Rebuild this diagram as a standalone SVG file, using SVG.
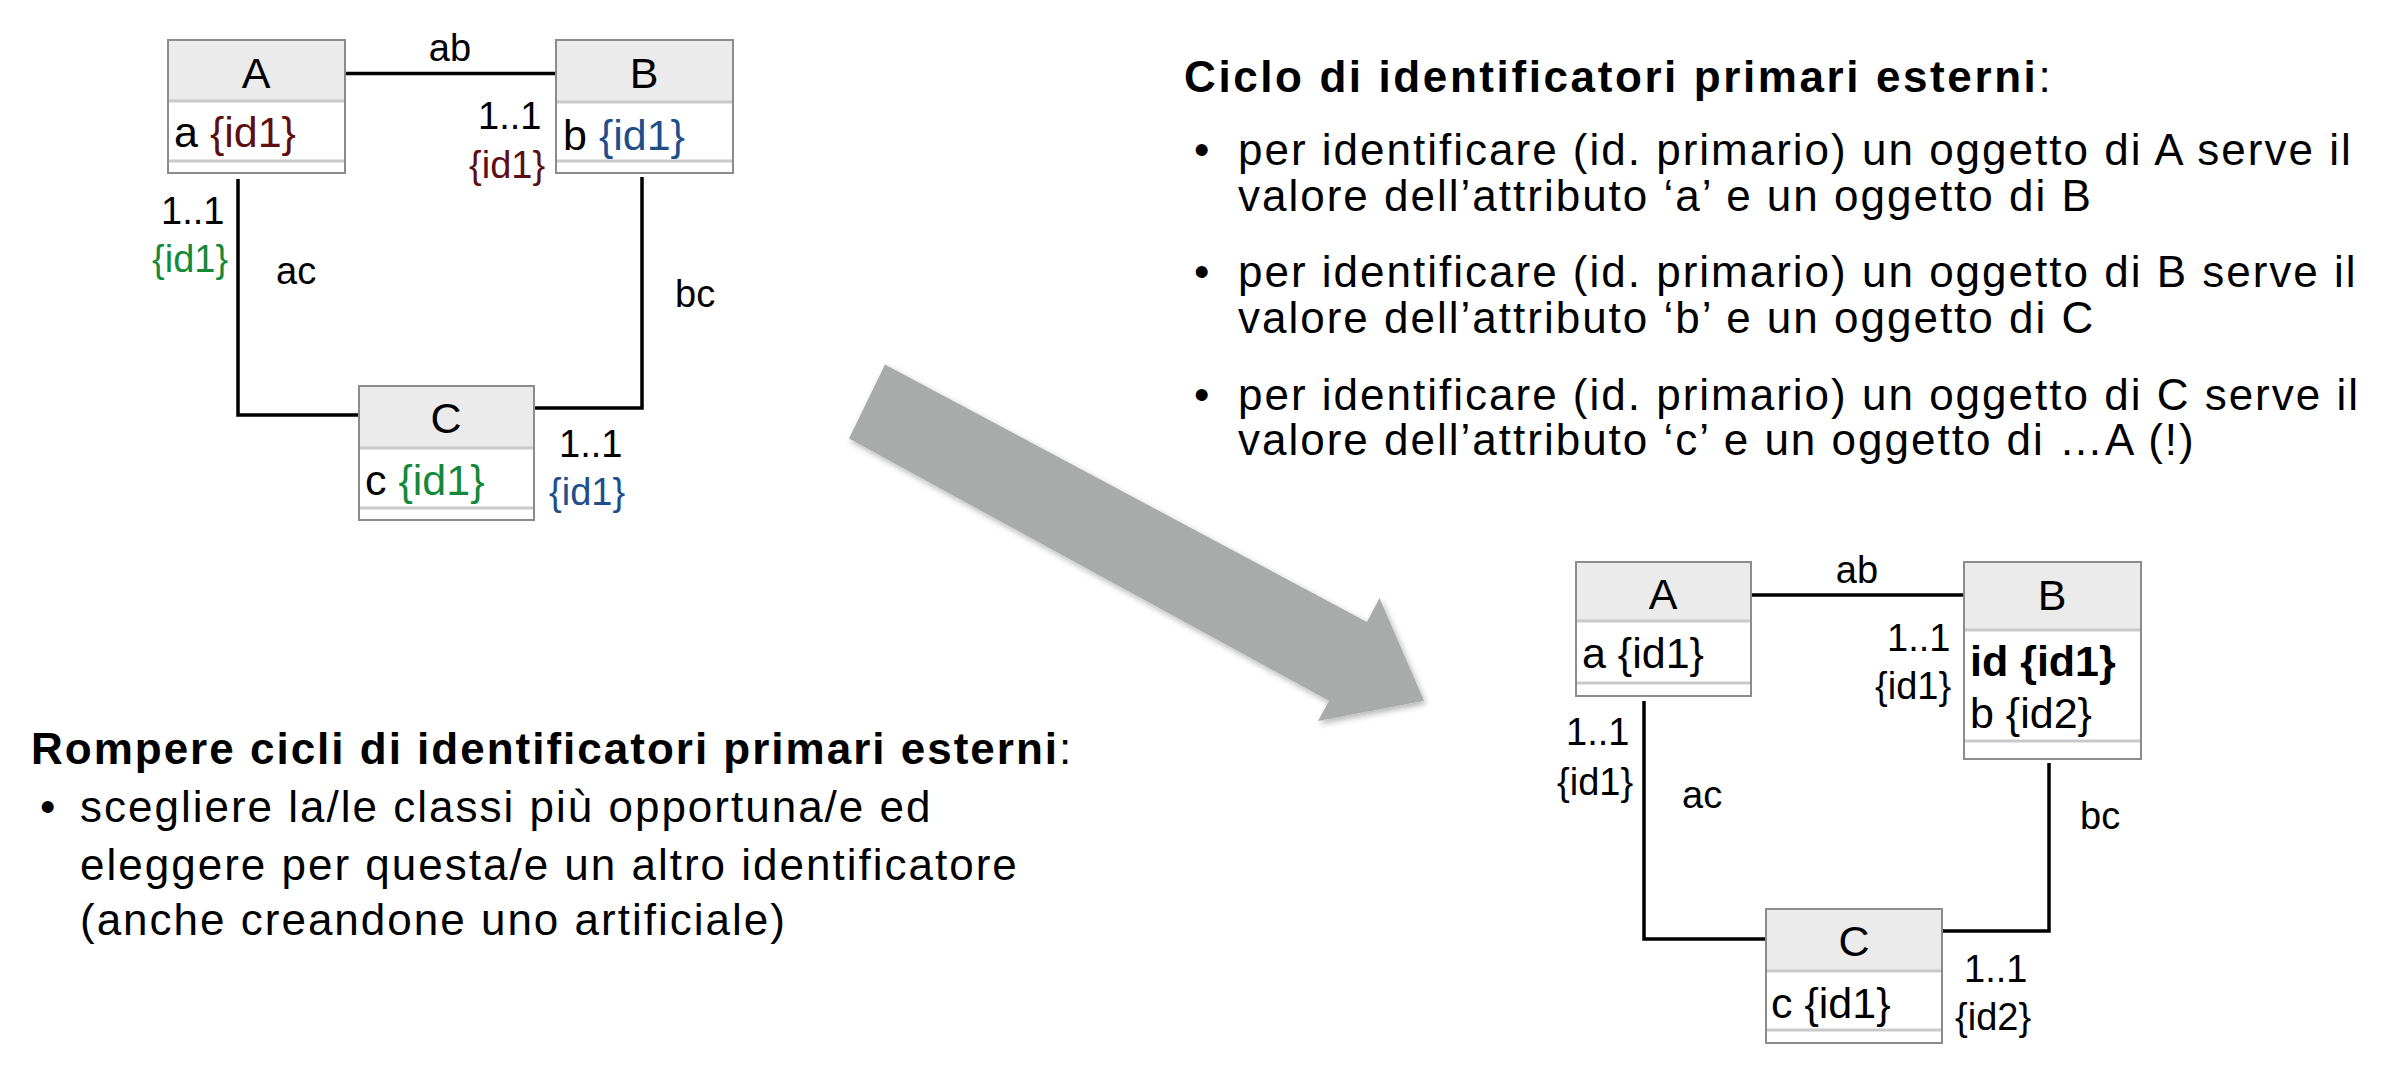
<svg xmlns="http://www.w3.org/2000/svg" width="2396" height="1068" viewBox="0 0 2396 1068">
<defs>
<style>
text{font-family:"Liberation Sans",Arial,Helvetica,sans-serif;fill:#000}
.box{fill:#fff;stroke:#8c8c8c;stroke-width:2}
.hdr{fill:#ebebeb}
.sep{stroke:#c9c9c9;stroke-width:3}
.cn{fill:none;stroke:#000;stroke-width:3.5}
.title{font-size:43px}
.attr{font-size:43px}
.lbl{font-size:38px}
.txt{font-size:44px;letter-spacing:2px}
.bold{font-weight:bold}
.red{fill:#5c1013}
.blue{fill:#1f4f8b}
.green{fill:#15893a}
</style>
<filter id="sh" x="-10%" y="-10%" width="130%" height="130%">
<feDropShadow dx="2" dy="3" stdDeviation="3" flood-color="#000" flood-opacity="0.3"/>
</filter>
</defs>
<rect width="2396" height="1068" fill="#fff"/>

<!-- connectors -->
<g id="connectors">
<polyline class="cn" points="346,73.5 556,73.5"/>
<polyline class="cn" points="238,179 238,415 359,415"/>
<polyline class="cn" points="642,177 642,408 534,408"/>
<polyline class="cn" points="1752,595 1964,595"/>
<polyline class="cn" points="1644,701 1644,939 1766,939"/>
<polyline class="cn" points="2049,763 2049,931 1942,931"/>
</g>

<!-- connector labels -->
<g id="labels-left" class="lbl">
<text x="450" y="61" text-anchor="middle">ab</text>
<text x="478" y="129">1..1</text>
<text x="469" y="178" class="red">{id1}</text>
<text x="161" y="224">1..1</text>
<text x="152" y="272" class="green">{id1}</text>
<text x="276" y="284">ac</text>
<text x="675" y="307">bc</text>
<text x="559" y="457">1..1</text>
<text x="549" y="505" class="blue">{id1}</text>
</g>
<g id="labels-right" class="lbl">
<text x="1857" y="583" text-anchor="middle">ab</text>
<text x="1887" y="651">1..1</text>
<text x="1875" y="699">{id1}</text>
<text x="1566" y="745">1..1</text>
<text x="1557" y="795">{id1}</text>
<text x="1682" y="808">ac</text>
<text x="2080" y="829">bc</text>
<text x="1964" y="982">1..1</text>
<text x="1955" y="1030">{id2}</text>
</g>

<!-- left diagram nodes -->
<g id="L-A">
<rect class="box" x="168" y="40" width="177" height="133"/>
<rect class="hdr" x="169" y="41" width="175" height="59"/>
<line class="sep" x1="169" y1="101" x2="344" y2="101"/>
<line class="sep" x1="169" y1="161" x2="344" y2="161"/>
<text class="title" x="256" y="88" text-anchor="middle">A</text>
<text class="attr" x="174" y="147">a <tspan class="red">{id1}</tspan></text>
</g>
<g id="L-B">
<rect class="box" x="556" y="40" width="177" height="133"/>
<rect class="hdr" x="557" y="41" width="175" height="61"/>
<line class="sep" x1="557" y1="102" x2="732" y2="102"/>
<line class="sep" x1="557" y1="161" x2="732" y2="161"/>
<text class="title" x="644" y="88" text-anchor="middle">B</text>
<text class="attr" x="563" y="150">b <tspan class="blue">{id1}</tspan></text>
</g>
<g id="L-C">
<rect class="box" x="359" y="386" width="175" height="134"/>
<rect class="hdr" x="360" y="387" width="173" height="61"/>
<line class="sep" x1="360" y1="448" x2="533" y2="448"/>
<line class="sep" x1="360" y1="508" x2="533" y2="508"/>
<text class="title" x="446" y="433" text-anchor="middle">C</text>
<text class="attr" x="365" y="495">c <tspan class="green">{id1}</tspan></text>
</g>

<!-- right diagram nodes -->
<g id="R-A">
<rect class="box" x="1576" y="562" width="175" height="134"/>
<rect class="hdr" x="1577" y="563" width="173" height="58"/>
<line class="sep" x1="1577" y1="621" x2="1750" y2="621"/>
<line class="sep" x1="1577" y1="683" x2="1750" y2="683"/>
<text class="title" x="1663" y="609" text-anchor="middle">A</text>
<text class="attr" x="1582" y="668">a {id1}</text>
</g>
<g id="R-B">
<rect class="box" x="1964" y="562" width="177" height="197"/>
<rect class="hdr" x="1965" y="563" width="175" height="67"/>
<line class="sep" x1="1965" y1="630" x2="2140" y2="630"/>
<line class="sep" x1="1965" y1="741" x2="2140" y2="741"/>
<text class="title" x="2052" y="610" text-anchor="middle">B</text>
<text class="attr bold" x="1970" y="676">id {id1}</text>
<text class="attr" x="1970" y="728">b {id2}</text>
</g>
<g id="R-C">
<rect class="box" x="1766" y="909" width="176" height="134"/>
<rect class="hdr" x="1767" y="910" width="174" height="61"/>
<line class="sep" x1="1767" y1="971" x2="1941" y2="971"/>
<line class="sep" x1="1767" y1="1030" x2="1941" y2="1030"/>
<text class="title" x="1854" y="956" text-anchor="middle">C</text>
<text class="attr" x="1771" y="1018">c {id1}</text>
</g>

<!-- big arrow -->
<g id="arrow">
<polygon points="885,364.5 1367,622 1379.5,598 1424,700.7 1318,721 1329,700.7 849,438.6" fill="#a8abaa" filter="url(#sh)"/>
</g>

<!-- right text block -->
<g id="text-right" class="txt">
<text x="1184" y="92" style="letter-spacing:2.6px"><tspan class="bold">Ciclo di identificatori primari esterni</tspan>:</text>
<text x="1194" y="165">•</text>
<text x="1238" y="165">per identificare (id. primario) un oggetto di A serve il</text>
<text x="1238" y="211">valore dell’attributo ‘a’ e un oggetto di B</text>
<text x="1194" y="287">•</text>
<text x="1238" y="287">per identificare (id. primario) un oggetto di B serve il</text>
<text x="1238" y="333">valore dell’attributo ‘b’ e un oggetto di C</text>
<text x="1194" y="410">•</text>
<text x="1238" y="410">per identificare (id. primario) un oggetto di C serve il</text>
<text x="1238" y="455">valore dell’attributo ‘c’ e un oggetto di …A (!)</text>
</g>

<!-- left text block -->
<g id="text-left" class="txt">
<text x="31" y="764"><tspan class="bold">Rompere cicli di identificatori primari esterni</tspan>:</text>
<text x="40" y="822">•</text>
<text x="80" y="822">scegliere la/le classi più opportuna/e ed</text>
<text x="80" y="880">eleggere per questa/e un altro identificatore</text>
<text x="80" y="935">(anche creandone uno artificiale)</text>
</g>
</svg>
